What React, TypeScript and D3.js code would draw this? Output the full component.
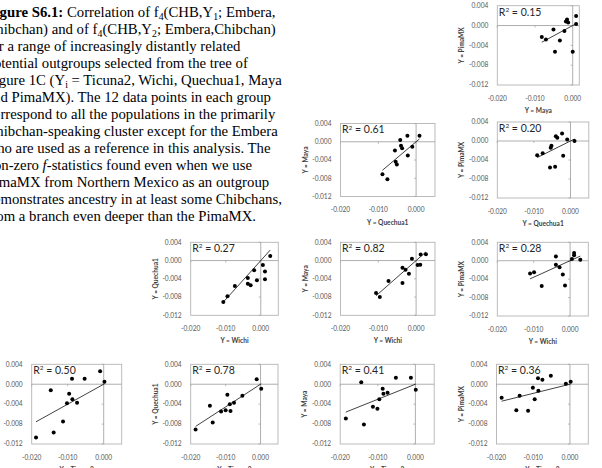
import React, { useEffect, useRef } from "react";
import * as d3 from "d3";

type Pt = [number, number];

// f4(CHB,Y1; Embera,Chibchan) vs f4(CHB,Y2; Embera,Chibchan), one point per Chibchan population
const mayaVsPima: Pt[] = [
  [-0.0082, -0.0023], [-0.0071, -0.0028], [-0.0051, -0.0008], [-0.0047, -0.0053],
  [-0.0034, -0.0030], [-0.0022, -0.0011], [-0.0018, 0.0008], [-0.0015, 0.0012],
  [-0.0012, 0.0006], [0.0000, -0.0053], [0.0009, 0.0019], [0.0009, 0.0003],
];
const quechuaVsMaya: Pt[] = [
  [-0.0089, -0.0071], [-0.0076, -0.0082], [-0.0056, -0.0019], [-0.0054, -0.0044],
  [-0.0051, -0.0050], [-0.0042, 0.0004], [-0.0040, -0.0009], [-0.0037, -0.0014],
  [-0.0023, 0.0013], [-0.0022, -0.0030], [-0.0010, -0.0011], [0.0009, 0.0013],
];
const quechuaVsPima: Pt[] = [
  [-0.0091, -0.0030], [-0.0076, -0.0026], [-0.0056, -0.0056], [-0.0054, -0.0014],
  [-0.0052, -0.0010], [-0.0042, -0.0054], [-0.0040, 0.0010], [-0.0036, 0.0007],
  [-0.0023, 0.0016], [-0.0020, -0.0031], [-0.0009, 0.0003], [0.0011, 0.0000],
];
const wichiVsQuechua: Pt[] = [
  [-0.0107, -0.0091], [-0.0095, -0.0078], [-0.0074, -0.0056], [-0.0037, -0.0038],
  [-0.0037, -0.0051], [-0.0029, -0.0054], [-0.0019, -0.0021], [-0.0011, -0.0043],
  [0.0006, -0.0010], [0.0012, -0.0024], [0.0012, -0.0041], [0.0027, 0.0010],
];
const wichiVsMaya: Pt[] = [
  [-0.0106, -0.0071], [-0.0096, -0.0080], [-0.0073, -0.0045], [-0.0036, -0.0049],
  [-0.0036, -0.0016], [-0.0028, -0.0020], [-0.0019, -0.0029], [-0.0011, 0.0004],
  [0.0004, -0.0010], [0.0011, -0.0009], [0.0012, 0.0013], [0.0026, 0.0014],
];
const wichiVsPima: Pt[] = [
  [-0.0110, -0.0028], [-0.0099, -0.0025], [-0.0078, -0.0055], [-0.0039, 0.0009],
  [-0.0039, -0.0009], [-0.0029, -0.0014], [-0.0020, -0.0030], [-0.0014, -0.0054],
  [0.0005, 0.0004], [0.0011, 0.0017], [0.0011, 0.0012], [0.0028, 0.0002],
];
const ticunaVsWichi: Pt[] = [
  [-0.0188, -0.0107], [-0.0147, -0.0012], [-0.0139, -0.0097], [-0.0113, -0.0075],
  [-0.0102, -0.0038], [-0.0096, -0.0019], [-0.0088, 0.0011], [-0.0087, -0.0030],
  [-0.0074, -0.0037], [-0.0053, 0.0011], [-0.0010, 0.0026], [0.0002, 0.0005],
];
const ticunaVsQuechua: Pt[] = [
  [-0.0186, -0.0091], [-0.0145, -0.0043], [-0.0137, -0.0077], [-0.0113, -0.0055],
  [-0.0100, -0.0052], [-0.0095, -0.0021], [-0.0088, -0.0040], [-0.0086, -0.0054],
  [-0.0076, -0.0037], [-0.0052, -0.0023], [-0.0011, 0.0010], [0.0002, -0.0009],
];
const ticunaVsMaya: Pt[] = [
  [-0.0185, -0.0069], [-0.0144, 0.0004], [-0.0137, -0.0081], [-0.0113, -0.0045],
  [-0.0101, -0.0049], [-0.0096, -0.0030], [-0.0087, -0.0009], [-0.0085, -0.0019],
  [-0.0074, -0.0017], [-0.0052, 0.0013], [-0.0012, 0.0013], [0.0001, -0.0011],
];
const ticunaVsPima: Pt[] = [
  [-0.0186, -0.0027], [-0.0146, -0.0052], [-0.0137, -0.0023], [-0.0114, -0.0053],
  [-0.0101, -0.0007], [-0.0096, -0.0030], [-0.0087, 0.0012], [-0.0086, -0.0013],
  [-0.0075, 0.0009], [-0.0052, 0.0017], [-0.0011, 0.0001], [0.0002, 0.0005],
];

const xTicks = [-0.02, -0.01, 0];
const yTicks = [0.004, 0, -0.004, -0.008, -0.012];

// one entry per small scatter: axis names, R² from the trendline, points
const panels = [
  { xName: "Maya", yName: "PimaMX", r2: "0.15", pts: mayaVsPima },
  { xName: "Quechua1", yName: "Maya", r2: "0.61", pts: quechuaVsMaya },
  { xName: "Quechua1", yName: "PimaMX", r2: "0.20", pts: quechuaVsPima },
  { xName: "Wichi", yName: "Quechua1", r2: "0.27", pts: wichiVsQuechua },
  { xName: "Wichi", yName: "Maya", r2: "0.82", pts: wichiVsMaya },
  { xName: "Wichi", yName: "PimaMX", r2: "0.28", pts: wichiVsPima },
  { xName: "Ticuna2", yName: "Wichi", r2: "0.50", pts: ticunaVsWichi },
  { xName: "Ticuna2", yName: "Quechua1", r2: "0.78", pts: ticunaVsQuechua },
  { xName: "Ticuna2", yName: "Maya", r2: "0.41", pts: ticunaVsMaya },
  { xName: "Ticuna2", yName: "PimaMX", r2: "0.36", pts: ticunaVsPima },
];

// plot-area boxes, same order as panels
const boxes = [
  { l: 497.3, t: 5.7, w: 82, h: 79.3, xMax: 0.00175 },
  { l: 340.5, t: 123.5, w: 94.5, h: 73, xMax: 0.005 },
  { l: 497.3, t: 122, w: 91.5, h: 76, xMax: 0.005 },
  { l: 190.7, t: 242.3, w: 87.6, h: 73, xMax: 0.005 },
  { l: 340.5, t: 242.3, w: 94.5, h: 73, xMax: 0.005 },
  { l: 497.3, t: 242.3, w: 91, h: 73.7, xMax: 0.005 },
  { l: 31.7, t: 364.3, w: 90, h: 79.7, xMax: 0.005 },
  { l: 190.7, t: 364.3, w: 87.3, h: 79.7, xMax: 0.005 },
  { l: 340.2, t: 364.3, w: 94, h: 79.7, xMax: 0.005 },
  { l: 496.5, t: 364.3, w: 91.8, h: 79.7, xMax: 0.005 },
];

type Seg = { t: string; b?: boolean; i?: boolean; sub?: boolean };
const caption: Seg[][] = [
  [{ t: "Figure S6.1:", b: true }, { t: " Correlation of f" }, { t: "4", sub: true }, { t: "(CHB,Y" }, { t: "1", sub: true }, { t: "; Embera," }],
  [{ t: "Chibchan) and of f" }, { t: "4", sub: true }, { t: "(CHB,Y" }, { t: "2", sub: true }, { t: "; Embera,Chibchan)" }],
  [{ t: "for a range of increasingly distantly related" }],
  [{ t: "potential outgroups selected from the tree of" }],
  [{ t: "Figure 1C (Y" }, { t: "i", sub: true }, { t: " = Ticuna2, Wichi, Quechua1, Maya" }],
  [{ t: "and PimaMX). The 12 data points in each group" }],
  [{ t: "correspond to all the populations in the primarily" }],
  [{ t: "Chibchan-speaking cluster except for the Embera" }],
  [{ t: "who are used as a reference in this analysis. The" }],
  [{ t: "non-zero " }, { t: "f", i: true }, { t: "-statistics found even when we use" }],
  [{ t: "PimaMX from Northern Mexico as an outgroup" }],
  [{ t: "demonstrates ancestry in at least some Chibchans," }],
  [{ t: "from a branch even deeper than the PimaMX." }],
];

const fmt = d3.formatLocale({ decimal: ".", thousands: ",", grouping: [3], currency: ["", ""], minus: "-" }).format(".3f");
const sans = "Lato, 'Liberation Sans', Arial, sans-serif";

export default function App() {
  const ref = useRef<SVGSVGElement>(null);

  useEffect(() => {
    const svg = d3.select(ref.current);
    const g = svg.select("g.panels");
    g.selectAll("*").remove();

    panels.forEach((p, k) => {
      const b = boxes[k];
      const x = d3.scaleLinear().domain([-0.02, b.xMax]).range([b.l, b.l + b.w]);
      const y = d3.scaleLinear().domain([-0.012, 0.004]).range([b.t + b.h, b.t]);
      const pg = g.append("g");

      pg.append("rect").attr("x", b.l).attr("y", b.t).attr("width", b.w).attr("height", b.h)
        .attr("fill", "none").attr("stroke", "#b4b4b4").attr("stroke-width", 0.9);

      // axes cross at zero
      pg.append("line").attr("x1", b.l).attr("x2", b.l + b.w).attr("y1", y(0)).attr("y2", y(0))
        .attr("stroke", "#a6a6a6").attr("stroke-width", 0.9);
      pg.append("line").attr("x1", x(0)).attr("x2", x(0)).attr("y1", b.t).attr("y2", b.t + b.h)
        .attr("stroke", "#a6a6a6").attr("stroke-width", 0.9);
      pg.selectAll(".xt").data(xTicks).join("line").attr("class", "xt")
        .attr("x1", d => x(d)).attr("x2", d => x(d)).attr("y1", y(0)).attr("y2", y(0) + 2)
        .attr("stroke", "#a6a6a6").attr("stroke-width", 0.8);
      pg.selectAll(".yt").data(yTicks).join("line").attr("class", "yt")
        .attr("x1", x(0) - 2).attr("x2", x(0)).attr("y1", d => y(d)).attr("y2", d => y(d))
        .attr("stroke", "#a6a6a6").attr("stroke-width", 0.8);

      // tick labels sit on the low side
      pg.selectAll(".xl").data(xTicks).join("text").attr("class", "xl")
        .attr("x", d => x(d)).attr("y", b.t + b.h + 15.5).attr("text-anchor", "middle")
        .attr("font-family", sans).attr("font-size", 6.6).attr("fill", "#595959").text(d => fmt(d));
      pg.selectAll(".yl").data(yTicks).join("text").attr("class", "yl")
        .attr("x", b.l - 9).attr("y", d => y(d) + 2.3).attr("text-anchor", "end")
        .attr("font-family", sans).attr("font-size", 6.6).attr("fill", "#595959").text(d => fmt(d));

      pg.append("text").attr("x", b.l + b.w / 2).attr("y", b.t + b.h + 28)
        .attr("text-anchor", "middle").attr("font-family", sans).attr("font-weight", "bold")
        .attr("font-size", 6.6).attr("fill", "#404040").text(`Y = ${p.xName}`);
      pg.append("text")
        .attr("transform", `translate(${b.l - 33},${b.t + b.h / 2}) rotate(-90)`)
        .attr("text-anchor", "middle").attr("font-family", sans).attr("font-weight", "bold")
        .attr("font-size", 6.6).attr("fill", "#404040").text(`Y = ${p.yName}`);

      // linear trendline with the intercept set to 0
      const slope = d3.sum(p.pts, d => d[0] * d[1]) / d3.sum(p.pts, d => d[0] * d[0]);
      const [x0, x1] = d3.extent(p.pts, d => d[0]) as [number, number];
      pg.append("line").attr("x1", x(x0)).attr("y1", y(slope * x0)).attr("x2", x(x1)).attr("y2", y(slope * x1))
        .attr("stroke", "#111").attr("stroke-width", 0.8);

      pg.selectAll("circle").data(p.pts).join("circle")
        .attr("cx", d => x(d[0])).attr("cy", d => y(d[1])).attr("r", 2).attr("fill", "#000");

      const r2 = pg.append("text").attr("x", b.l + 1.5).attr("y", b.t + 9.8)
        .attr("font-family", sans).attr("font-size", 10.5).attr("fill", "#262626");
      r2.append("tspan").text("R");
      r2.append("tspan").attr("font-size", 6.5).attr("dy", -3.8).text("2");
      r2.append("tspan").attr("dy", 3.8).text(` = ${p.r2}`);
    });
  }, []);

  return (
    <svg ref={ref} width={602} height={468} style={{ position: "absolute", left: 0, top: 0, background: "#fff" }}>
      <g className="caption" fontFamily="'Liberation Serif', 'Times New Roman', serif" fontSize={14.75} fill="#000">
        {caption.map((line, i) => (
          <text key={i} x={-13.5} y={17.3 + i * 16.95}>
            {line.map((s, j) => {
              const prevSub = j > 0 && line[j - 1].sub;
              return (
                <tspan
                  key={j}
                  fontWeight={s.b ? "bold" : undefined}
                  fontStyle={s.i ? "italic" : undefined}
                  fontSize={s.sub ? 9.8 : undefined}
                  dy={s.sub ? 3 : prevSub ? -3 : undefined}
                >
                  {s.t}
                </tspan>
              );
            })}
          </text>
        ))}
      </g>
      <g className="panels" />
    </svg>
  );
}
